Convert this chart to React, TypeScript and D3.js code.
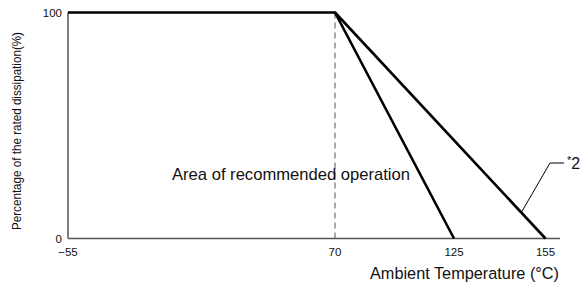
import React from "react";
import * as d3 from "d3";

// derating curves (ambient temperature °C, % of rated dissipation)
const curveA = [
  { t: -55, p: 100 },
  { t: 70, p: 100 },
  { t: 125, p: 0 },
];
const curveB = [
  { t: 70, p: 100 },
  { t: 155, p: 0 },
];
const xTicks = [-55, 70, 125, 155];
const yTicks = [0, 100];

const width = 586;
const height = 283;
const margin = { top: 12.5, left: 68, bottom: 45, right: 26 };

// the reference axis is not linear: each tick sits where the picture puts it
const x = d3
  .scaleLinear()
  .domain([-55, 70, 125, 155])
  .range([margin.left, 335, 454, 545.5]);
const y = d3
  .scaleLinear()
  .domain([0, 100])
  .range([height - margin.bottom + 0.5, margin.top]);

const line = d3
  .line<{ t: number; p: number }>()
  .x((d) => x(d.t))
  .y((d) => y(d.p));

const font = "Liberation Sans, Arial, Helvetica, sans-serif";

export default function App() {
  const x0 = margin.left;
  const x1 = 560;
  const y0 = y(0);

  // leader for *2 starts on curve B, near its lower end
  const a = curveB[0];
  const b = curveB[1];
  const lead = d3.interpolate([x(a.t), y(a.p)], [x(b.t), y(b.p)])(0.885);

  return (
    <svg
      width={width}
      height={height}
      style={{ position: "absolute", left: 0, top: 0 }}
      fontFamily={font}
    >
      <rect width={width} height={height} fill="#fff" />

      {/* axes */}
      <line x1={x0} x2={x0} y1={y(100)} y2={y0} stroke="#555" strokeWidth={1.5} />
      <line x1={x0} x2={x1} y1={y0} y2={y0} stroke="#555" strokeWidth={1.5} />

      {/* 70 °C guide */}
      <line
        x1={x(70)}
        x2={x(70)}
        y1={y(100)}
        y2={y0}
        stroke="#555"
        strokeWidth={1}
        strokeDasharray="6,4"
      />

      <path d={line(curveA) ?? ""} fill="none" stroke="#000" strokeWidth={2.6} strokeLinejoin="miter" />
      <path d={line(curveB) ?? ""} fill="none" stroke="#000" strokeWidth={2.6} />

      {/* ticks */}
      {xTicks.map((t) => (
        <text key={t} x={x(t)} y={256} fontSize={11.5} textAnchor="middle" fill="#111">
          {t < 0 ? "\u2212" + Math.abs(t) : t}
        </text>
      ))}
      {yTicks.map((p) => (
        <text key={p} x={62} y={y(p) + 4} fontSize={11.5} textAnchor="end" fill="#111">
          {p}
        </text>
      ))}

      {/* titles */}
      <text
        transform={`translate(21,131) rotate(-90)`}
        fontSize={12}
        textAnchor="middle"
        textLength={198}
        lengthAdjust="spacingAndGlyphs"
        fill="#111"
      >
        Percentage of the rated dissipation(%)
      </text>
      <text x={370} y={279} fontSize={16.3} fill="#111">
        Ambient Temperature (°C)
      </text>
      <text x={172} y={180} fontSize={16.6} fill="#111">
        Area of recommended operation
      </text>

      {/* *2 callout */}
      <polyline
        points={`${lead[0]},${lead[1]} 550,163 564,163`}
        fill="none"
        stroke="#000"
        strokeWidth={1}
      />
      <text x={567} y={169} fontSize={16} fill="#111">
        <tspan fontSize={11} dy={-5}>*</tspan>
        <tspan dy={5}>2</tspan>
      </text>
    </svg>
  );
}
